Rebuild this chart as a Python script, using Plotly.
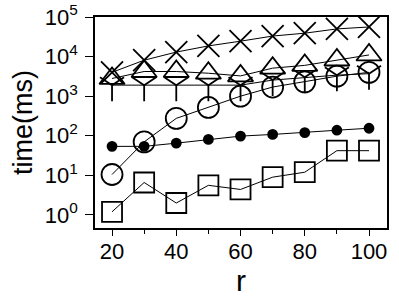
import plotly.graph_objects as go

r_vals = [20, 30, 40, 50, 60, 70, 80, 90, 100]
cross_vals = [4000, 8100, 13000, 18600, 24500, 33000, 39000, 50000, 56000]
triangle_vals = [2800, 4200, 4200, 3800, 3250, 5100, 6000, 8200, 11000]
ydown_vals = [1900, 1900, 1900, 1900, 1900, 2550, 3000, 3400, 3700]
circle_vals = [10.5, 70, 275, 520, 1000, 1700, 2300, 3200, 4000]
dot_vals = [54, 54, 65, 81, 98, 108, 120, 138, 155]
square_vals = [1.2, 6.6, 2.0, 5.6, 4.4, 9.0, 12.0, 42, 42]

y_tickvals = [1, 10, 100, 1000, 10000, 100000]
y_ticktext = ["10<sup>0</sup>", "10<sup>1</sup>", "10<sup>2</sup>",
              "10<sup>3</sup>", "10<sup>4</sup>", "10<sup>5</sup>"]
x_tickvals = [20, 40, 60, 80, 100]

series = [
    (cross_vals, "x-thin-open", 22),
    (triangle_vals, "triangle-up-open", 22),
    (ydown_vals, "y-down-open", 20),
    (circle_vals, "circle-open", 21),
    (dot_vals, "circle", 9),
    (square_vals, "square-open", 20),
]

fig = go.Figure()
for vals, sym, sz in series:
    fig.add_trace(go.Scatter(
        x=r_vals, y=vals, mode="lines+markers",
        line=dict(color="black", width=1),
        marker=dict(symbol=sym, size=sz, color="black",
                    line=dict(color="black", width=1.8)),
        showlegend=False,
    ))

fig.update_layout(
    width=399, height=300,
    margin=dict(l=95, r=12, t=17, b=72),
    paper_bgcolor="white", plot_bgcolor="white",
    font=dict(family="Liberation Sans, Arial, sans-serif", color="black", size=22),
)
fig.update_xaxes(
    automargin=False,
    range=[14.7, 105.6], tickvals=x_tickvals,
    ticks="outside", ticklen=6, tickwidth=1.2, tickcolor="black",
    minor=dict(tickvals=[30, 50, 70, 90], ticks="outside", ticklen=4, tickcolor="black"),
    showline=True, linecolor="black", linewidth=1.5, mirror=True,
    showgrid=False, zeroline=False,
    ticklabelstandoff=-3,
    title=dict(text="r", font=dict(size=30), standoff=4),
    tickfont=dict(size=22),
)
fig.update_yaxes(
    automargin=False,
    type="log", range=[-0.33, 5.0], tickvals=y_tickvals, ticktext=y_ticktext,
    ticks="outside", ticklen=8, tickwidth=1.2, tickcolor="black",
    showline=True, linecolor="black", linewidth=1.5, mirror=True,
    showgrid=False, zeroline=False,
    ticklabelstandoff=3,
    title=dict(text="time(ms)", font=dict(size=27), standoff=4),
    tickfont=dict(size=22),
)

fig.write_html("out.html", config={"displayModeBar": False},
               post_script="document.body.style.margin='0';")
